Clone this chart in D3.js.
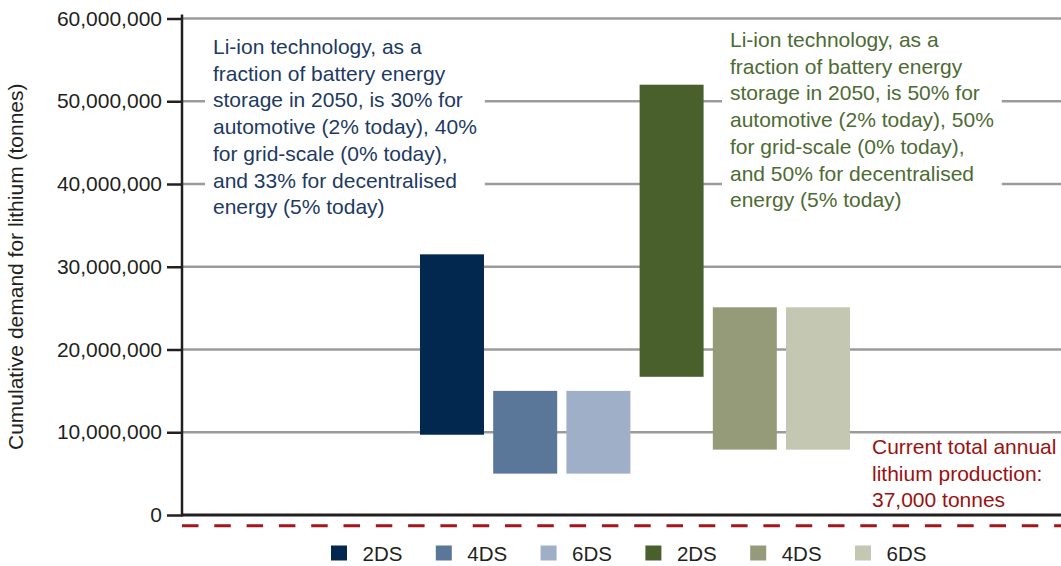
<!DOCTYPE html>
<html>
<head>
<meta charset="utf-8">
<script src="https://cdn.jsdelivr.net/npm/d3@7"></script>
<style>
  body { margin: 0; background: #fff; }
  text { font-family: "Liberation Sans", Arial, Helvetica, sans-serif; }
</style>
</head>
<body>
<div id="chart"></div>
<script>
const FRAME_WIDTH = 1061;
const FRAME_HEIGHT = 566;
const MARGINS = {left: 182, right: 0, top: 18.5, bottom: 51};

// data
const BAR_KEYS = ["a-2DS", "a-4DS", "a-6DS", "b-2DS", "b-4DS", "b-6DS"];
const SCENARIO_LABELS = ["2DS", "4DS", "6DS", "2DS", "4DS", "6DS"];
const LOW_DEMAND = [9700000, 5000000, 5000000, 16700000, 7900000, 7900000];
const HIGH_DEMAND = [31500000, 15000000, 15000000, 52000000, 25100000, 25100000];
const Y_TICKS = [0, 10000000, 20000000, 30000000, 40000000, 50000000, 60000000];
const ANNUAL_PRODUCTION = 37000;

const BAR_COLORS = ["#02284f", "#5a7699", "#9eafc7", "#4a602c", "#959b78", "#c4c7b2"];

const NOTE_LEFT = [
  "Li-ion technology, as a",
  "fraction of battery energy",
  "storage in 2050, is 30% for",
  "automotive (2% today), 40%",
  "for grid-scale (0% today),",
  "and 33% for decentralised",
  "energy (5% today)"
];
const NOTE_RIGHT = [
  "Li-ion technology, as a",
  "fraction of battery energy",
  "storage in 2050, is 50% for",
  "automotive (2% today), 50%",
  "for grid-scale (0% today),",
  "and 50% for decentralised",
  "energy (5% today)"
];
const NOTE_PRODUCTION = ["Current total annual", "lithium production:", "37,000 tonnes"];

const svg = d3.select("#chart")
  .append("svg")
    .attr("width", FRAME_WIDTH)
    .attr("height", FRAME_HEIGHT);

const Y_SCALE = d3.scaleLinear()
  .domain([0, 60000000])
  .range([FRAME_HEIGHT - MARGINS.bottom, MARGINS.top]);

// bars sit in the middle of the plot
const X_SCALE = d3.scaleBand()
  .domain(BAR_KEYS)
  .range([420, 850])
  .paddingInner(0.126)
  .paddingOuter(0);

const fmt = d3.format(",");

// gridlines
svg.append("g")
  .selectAll("line")
  .data(Y_TICKS.slice(1))
  .enter()
  .append("line")
    .attr("x1", MARGINS.left)
    .attr("x2", FRAME_WIDTH)
    .attr("y1", d => Y_SCALE(d))
    .attr("y2", d => Y_SCALE(d))
    .attr("stroke", "#9b9b9e")
    .attr("stroke-width", 2.5);

// white boxes behind the notes, then the notes
function addNote(lines, x, y0, color, box) {
  const g = svg.append("g");
  const rect = g.append("rect").attr("fill", "#fff");
  const t = g.append("text")
    .attr("fill", color)
    .attr("font-size", 21);
  t.selectAll("tspan")
    .data(lines)
    .enter()
    .append("tspan")
      .attr("x", x)
      .attr("y", (d, i) => y0 + i * 26.7)
      .text(d => d);
  if (box) {
    const bb = t.node().getBBox();
    rect.attr("x", bb.x - 8).attr("y", bb.y - 4)
      .attr("width", bb.width + 16).attr("height", bb.height + 8);
  }
}

// bars
svg.append("g")
  .selectAll("rect")
  .data(BAR_KEYS)
  .enter()
  .append("rect")
    .attr("x", d => X_SCALE(d))
    .attr("y", (d, i) => Y_SCALE(HIGH_DEMAND[i]))
    .attr("width", X_SCALE.bandwidth())
    .attr("height", (d, i) => Y_SCALE(LOW_DEMAND[i]) - Y_SCALE(HIGH_DEMAND[i]))
    .attr("fill", (d, i) => BAR_COLORS[i]);

addNote(NOTE_LEFT, 213, 54, "#1d3a62", true);
addNote(NOTE_RIGHT, 730, 47, "#4d6b33", true);
addNote(NOTE_PRODUCTION, 872, 454, "#9b1111", false);

// y axis
const yAxis = svg.append("g")
  .attr("transform", "translate(" + MARGINS.left + ",0)")
  .call(d3.axisLeft(Y_SCALE).tickValues(Y_TICKS).tickFormat(fmt).tickSize(15).tickPadding(5).tickSizeOuter(0));
yAxis.select(".domain").remove();
yAxis.selectAll(".tick line").attr("stroke", "#231f20").attr("stroke-width", 2.5);
yAxis.selectAll(".tick text")
  .attr("fill", "#231f20")
  .attr("font-size", 21)
  .attr("font-family", "Liberation Sans, Arial, sans-serif");

svg.append("line")
  .attr("x1", MARGINS.left).attr("x2", MARGINS.left)
  .attr("y1", Y_SCALE(60000000) - 4).attr("y2", Y_SCALE(0) + 1.5)
  .attr("stroke", "#231f20").attr("stroke-width", 2.5);

// baseline
svg.append("line")
  .attr("x1", MARGINS.left).attr("x2", FRAME_WIDTH)
  .attr("y1", Y_SCALE(0)).attr("y2", Y_SCALE(0))
  .attr("stroke", "#231f20").attr("stroke-width", 3);

// current annual production, drawn just under the baseline
svg.append("line")
  .attr("x1", MARGINS.left).attr("x2", FRAME_WIDTH)
  .attr("y1", Y_SCALE(ANNUAL_PRODUCTION) + 11)
  .attr("y2", Y_SCALE(ANNUAL_PRODUCTION) + 11)
  .attr("stroke", "#a3161a")
  .attr("stroke-width", 3)
  .attr("stroke-dasharray", "16.5 15.8");

// y title
svg.append("text")
  .attr("transform", "translate(23," + ((MARGINS.top + FRAME_HEIGHT - MARGINS.bottom) / 2) + ") rotate(-90)")
  .attr("text-anchor", "middle")
  .attr("font-size", 21)
  .attr("fill", "#231f20")
  .text("Cumulative demand for lithium (tonnes)");

// legend
const legend = svg.append("g")
  .selectAll("g")
  .data(BAR_KEYS)
  .enter()
  .append("g")
    .attr("transform", (d, i) => "translate(" + (331 + i * 104.8) + ",545.5)");
legend.append("rect")
  .attr("width", 16)
  .attr("height", 15)
  .attr("fill", (d, i) => BAR_COLORS[i]);
legend.append("text")
  .attr("x", 31.5)
  .attr("y", 15.5)
  .attr("font-size", 20.5)
  .attr("fill", "#231f20")
  .text((d, i) => SCENARIO_LABELS[i]);
</script>
</body>
</html>
